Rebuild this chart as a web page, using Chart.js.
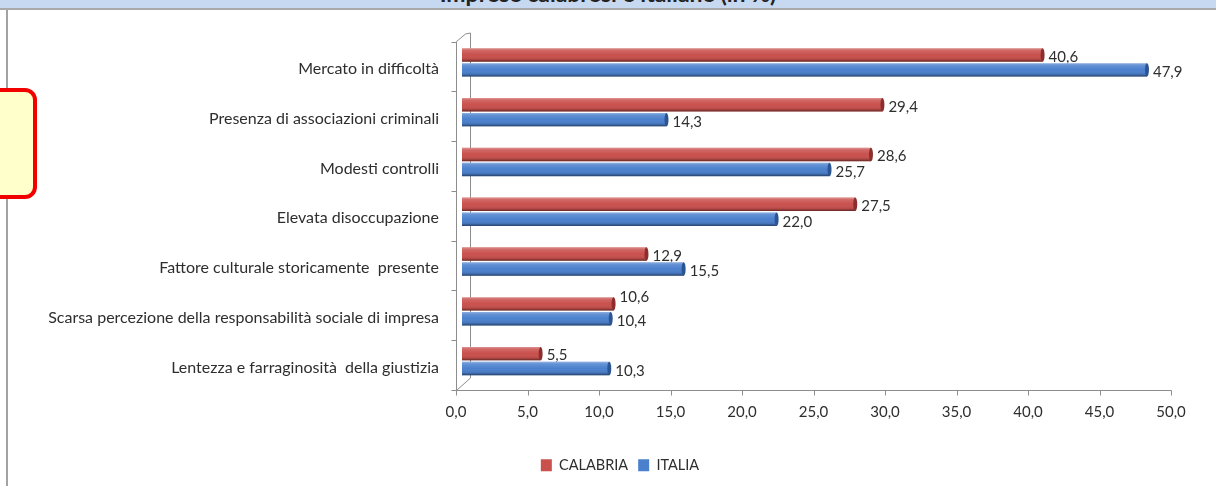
<!DOCTYPE html>
<html lang="it">
<head>
<meta charset="utf-8">
<title>Imprese calabresi e italiane (in %)</title>
<script src="https://cdn.jsdelivr.net/npm/chart.js@4.4.1/dist/chart.umd.min.js"></script>
<style>
  html, body { margin: 0; padding: 0; background: #fff; }
  body { position: relative; width: 1216px; height: 486px; overflow: hidden; }
  #chart { position: absolute; left: 0; top: 0; }
  #band {
    position: absolute; left: 0; top: 0; width: 1216px; height: 8px;
    background: #c6d9f1; border-bottom: 2px solid #a9a9a9; overflow: hidden;
  }
  #band span {
    position: absolute; left: 0; right: 0; top: -18px; text-align: center;
    font: bold 23px Lato, sans-serif; line-height: 23px; color: #222;
  }
  #edge { position: absolute; left: 6px; top: 10px; width: 2px; height: 476px; background: #a3a3a3; }
  #note {
    position: absolute; left: -12px; top: 88px; width: 49px; height: 111px; box-sizing: border-box;
    border: 4px solid #f20000; border-radius: 12px; background: #ffffcc;
  }
</style>
</head>
<body>
<canvas id="chart" width="1216" height="486"></canvas>
<div id="band"><span>Imprese calabresi e italiane (in %)</span></div>
<div id="edge"></div>
<div id="note"></div>
<script>
// Categories (top to bottom) and the two series, in percent
const categories = [
  'Mercato in difficoltà',
  'Presenza di associazioni criminali',
  'Modesti controlli',
  'Elevata disoccupazione',
  'Fattore culturale storicamente  presente',
  'Scarsa percezione della responsabilità sociale di impresa',
  'Lentezza e farraginosità  della giustizia'
];
const calabria = [40.6, 29.4, 28.6, 27.5, 12.9, 10.6, 5.5];
const italia   = [47.9, 14.3, 25.7, 22.0, 15.5, 10.4, 10.3];
const seriesNames = ['CALABRIA', 'ITALIA'];
const valueTicks = [0, 5, 10, 15, 20, 25, 30, 35, 40, 45, 50];

const FONT = 'Lato, "Open Sans", sans-serif';
const TEXT = '#2e2e2e';
const NUM_SIZE = 15;
const fmt = v => v.toFixed(1).replace('.', ',');

// front plane of the pseudo-3D frame sits a little left of / below the bars
const FRONT_DX = -6, FRONT_DY = 4, BACK_DX = 8;
const LEFT_PAD = 30, LEGEND_SHIFT = 16.5;

const frame3d = {
  id: 'frame3d',
  afterLayout(chart) {
    // centre the legend under the plot rather than under the whole canvas
    chart.legend.left += LEGEND_SHIFT;
    chart.legend.right += LEGEND_SHIFT;
  },
  beforeDatasetsDraw(chart) {
    const {ctx, scales: {x, y}} = chart;
    const band = y.getPixelForValue(1) - y.getPixelForValue(0);
    const zero = x.getPixelForValue(0);
    const fx = Math.round(zero + FRONT_DX) + 0.5;
    const top = y.top + FRONT_DY, bottom = Math.round(y.bottom + FRONT_DY) + 0.5;
    const bx = Math.round(zero + BACK_DX) + 0.5;
    ctx.save();
    ctx.strokeStyle = '#8d8d8d';
    ctx.lineWidth = 1;
    ctx.beginPath();
    // back wall edge and its corners
    ctx.moveTo(bx, y.top - 4.5); ctx.lineTo(bx, y.bottom - 8);
    ctx.moveTo(fx, top); ctx.lineTo(bx - 5, y.top - 3.5); ctx.lineTo(bx, y.top - 4.5);
    ctx.moveTo(fx, bottom); ctx.lineTo(bx, y.bottom - 8);
    // category axis with boundary ticks
    ctx.moveTo(fx, top); ctx.lineTo(fx, bottom);
    for (let i = 0; i <= categories.length; i++) {
      const ty = Math.round(top + i * band) + 0.5;
      ctx.moveTo(fx - 5, ty); ctx.lineTo(fx, ty);
    }
    // value axis with ticks
    const last = Math.round(x.getPixelForValue(valueTicks[valueTicks.length - 1]) + FRONT_DX) + 0.5;
    ctx.moveTo(fx, bottom); ctx.lineTo(last, bottom);
    valueTicks.forEach(v => {
      const px = Math.round(x.getPixelForValue(v) + FRONT_DX) + 0.5;
      ctx.moveTo(px, bottom); ctx.lineTo(px, bottom + 5);
    });
    ctx.stroke();
    ctx.restore();
  }
};

// cylinder-like shading over each bar plus a rounded end cap
const barShade = {
  id: 'barShade',
  afterDatasetsDraw(chart) {
    const {ctx} = chart;
    const caps = ['#8c2f2c', '#2b5592'];
    chart.data.datasets.forEach((ds, di) => {
      chart.getDatasetMeta(di).data.forEach(el => {
        const {x, y, base, height} = el.getProps(['x', 'y', 'base', 'height'], true);
        const t = y - height / 2, b = y + height / 2;
        ctx.save();
        const g = ctx.createLinearGradient(0, t, 0, b);
        g.addColorStop(0, 'rgba(255,255,255,0.40)');
        g.addColorStop(0.15, 'rgba(255,255,255,0.14)');
        g.addColorStop(0.5, 'rgba(255,255,255,0)');
        g.addColorStop(0.82, 'rgba(0,0,0,0.10)');
        g.addColorStop(1, 'rgba(0,0,0,0.50)');
        ctx.fillStyle = g;
        ctx.fillRect(base, t, x - base, height);
        ctx.beginPath();
        ctx.ellipse(x, y, 2, height / 2, 0, 0, Math.PI * 2);
        ctx.fillStyle = caps[di];
        ctx.fill();
        ctx.restore();
      });
    });
  }
};

// value labels: CALABRIA labels go down first so the ITALIA bars lie over them
function labelBoxes(chart) {
  const {ctx} = chart;
  ctx.font = NUM_SIZE + 'px ' + FONT;
  const r = chart.getDatasetMeta(0).data, bl = chart.getDatasetMeta(1).data;
  return r.map((el, i) => {
    const rs = fmt(calabria[i]), bs = fmt(italia[i]);
    const rx = el.x + 6, bx = bl[i].x + 6;
    const rw = ctx.measureText(rs).width, bw = ctx.measureText(bs).width;
    const clash = rx < bx + bw && bx < rx + rw;
    return {
      red: {text: rs, x: rx, y: el.y + (clash ? -7 : 2)},
      blue: {text: bs, x: bx, y: bl[i].y + 2.5}
    };
  });
}
function drawLabels(chart, key) {
  const {ctx} = chart;
  ctx.save();
  ctx.font = NUM_SIZE + 'px ' + FONT; ctx.fillStyle = TEXT; ctx.textBaseline = 'middle';
  labelBoxes(chart).forEach(p => ctx.fillText(p[key].text, p[key].x, p[key].y));
  ctx.restore();
}
const valueLabels = {
  id: 'valueLabels',
  beforeDatasetsDraw(chart) { drawLabels(chart, 'red'); },
  afterDatasetsDraw(chart) { drawLabels(chart, 'blue'); }
};

new Chart(document.getElementById('chart'), {
  type: 'bar',
  data: {
    labels: categories,
    datasets: [
      {label: seriesNames[0], data: calabria, backgroundColor: '#c9504d'},
      {label: seriesNames[1], data: italia, backgroundColor: '#4b80cd'}
    ]
  },
  options: {
    indexAxis: 'y',
    responsive: false,
    animation: false,
    layout: {padding: {left: LEFT_PAD, right: 39, top: 37.5, bottom: 3.5}},
    datasets: {bar: {categoryPercentage: 0.6, barPercentage: 0.9}},
    scales: {
      x: {
        min: 0, max: 50,
        afterBuildTicks: s => { s.ticks = valueTicks.map(v => ({value: v})); },
        afterFit: s => { s.height = 62; },
        grid: {display: false},
        border: {display: false},
        ticks: {
          padding: 9, labelOffset: FRONT_DX, maxRotation: 0,
          color: TEXT, font: {family: FONT, size: NUM_SIZE},
          callback: v => fmt(v)
        }
      },
      y: {
        afterFit: s => { s.width = 462 - LEFT_PAD; },
        grid: {display: false},
        border: {display: false},
        ticks: {
          padding: 15, labelOffset: 6.5,
          color: TEXT, font: {family: FONT, size: 16}
        }
      }
    },
    plugins: {
      legend: {
        position: 'bottom',
        labels: {boxWidth: 11, boxHeight: 12, padding: 10, color: TEXT, font: {family: FONT, size: 14.5}}
      },
      tooltip: {enabled: false},
      title: {display: false}
    }
  },
  plugins: [frame3d, valueLabels, barShade]
});
</script>
</body>
</html>
